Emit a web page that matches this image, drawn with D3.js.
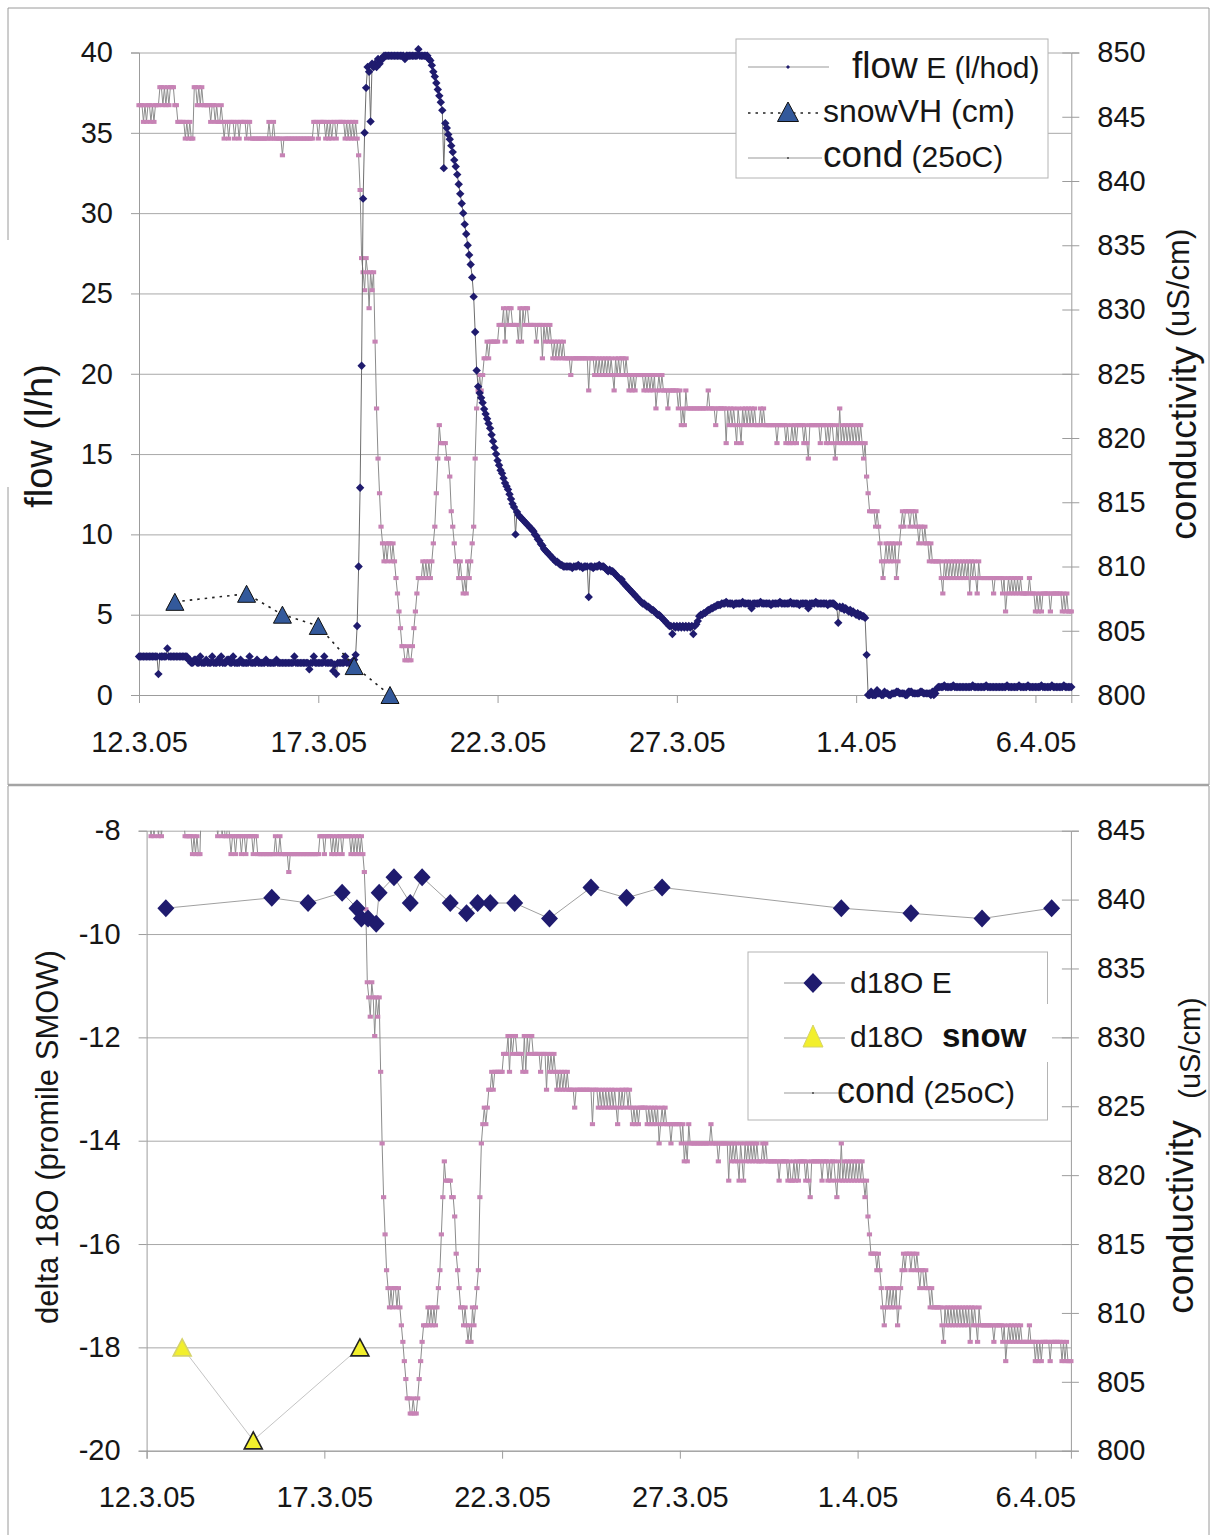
<!DOCTYPE html>
<html>
<head>
<meta charset="utf-8">
<script src="https://cdn.jsdelivr.net/npm/d3@7"></script>
<style>
html, body { margin: 0; padding: 0; background: #fff; }
svg { display: block; font-family: "Liberation Sans", Arial, sans-serif; }
</style>
</head>
<body>
<svg width="1214" height="1535"></svg>
<script>
// ---- data ----
const xDomain = ["2005-03-12", "2005-04-07"];
const xTicks = ["2005-03-12", "2005-03-17", "2005-03-22", "2005-03-27", "2005-04-01", "2005-04-06"];
const flowTicks = [0, 5, 10, 15, 20, 25, 30, 35, 40];
const condTicksTop = [800, 805, 810, 815, 820, 825, 830, 835, 840, 845, 850];
const isoTicks = [-20, -18, -16, -14, -12, -10, -8];
const condTicksBottom = [800, 805, 810, 815, 820, 825, 830, 835, 840, 845];

// hourly logger readings from 12.3.05 00:00; [value, hours] = repeated reading
const seriesStart = "2005-03-12T00:00";

const condRuns = [
  // 12.3
  [845.9,3],844.6,845.9,844.6,[845.9,2],844.6,845.9,844.6,[845.9,3],[847.3,2],845.9,847.3,845.9,847.3,845.9,[847.3,3],
  // 13.3
  [845.9,2],[844.6,5],843.3,844.6,843.3,844.6,[843.3,2],[847.3,2],845.9,847.3,845.9,847.3,[845.9,5],
  // 14.3
  844.6,[845.9,2],844.6,845.9,[844.6,2],845.9,844.6,843.3,[844.6,2],843.3,[844.6,3],843.3,[844.6,2],843.3,[844.6,4],
  // 15.3
  843.3,[844.6,2],[843.3,12],844.6,[843.3,2],844.6,[843.3,5],
  // 16.3
  842.0,[843.3,20],[844.6,3],
  // 17.3
  843.3,[844.6,4],843.3,844.6,843.3,844.6,843.3,[844.6,2],843.3,[844.6,5],843.3,844.6,843.3,844.6,843.3,844.6,
  // 18.3
  843.3,844.6,843.3,842.0,839.3,834.0,832.9,831.5,834.0,832.9,830.1,832.9,831.5,832.9,827.5,822.3,818.4,815.7,813.1,811.8,810.4,811.8,810.4,811.8,
  // 19.3
  811.8,810.4,811.8,810.4,809.1,807.9,806.5,805.2,[803.8,2],[802.7,2],803.8,[802.7,2],803.8,805.2,806.5,807.9,[809.1,3],810.4,809.1,
  // 20.3
  810.4,809.1,810.4,809.1,810.4,811.8,813.1,815.7,818.4,821.0,[819.6,4],[818.4,2],817.0,814.3,813.1,811.8,[810.4,2],809.1,810.4,
  // 21.3
  809.1,807.9,809.1,807.9,810.4,809.1,810.4,811.8,813.1,818.4,822.3,823.7,824.9,823.7,824.9,[826.2,2],827.5,826.2,[827.5,5],
  // 22.3
  827.5,[828.8,3],830.1,827.5,830.1,828.8,[830.1,2],[828.8,4],827.5,830.1,827.5,830.1,828.8,[830.1,2],[828.8,3],
  // 23.3
  [828.8,2],827.5,[828.8,3],826.2,828.8,827.5,828.8,827.5,828.8,827.5,826.2,827.5,826.2,827.5,826.2,827.5,826.2,827.5,[826.2,3],
  // 24.3
  826.2,824.9,[826.2,11],823.7,[826.2,3],824.9,826.2,824.9,826.2,824.9,826.2,824.9,
  // 25.3
  826.2,824.9,826.2,824.9,826.2,824.9,823.7,826.2,824.9,826.2,824.9,[826.2,2],824.9,826.2,824.9,823.7,824.9,823.7,824.9,823.7,[824.9,3],
  // 26.3
  [824.9,2],823.7,824.9,823.7,824.9,823.7,824.9,823.7,824.9,822.3,823.7,824.9,823.7,824.9,[823.7,3],822.3,[823.7,5],
  // 27.3
  823.7,822.3,823.7,821.0,822.3,821.0,823.7,[822.3,14],823.7,[822.3,2],
  // 28.3
  [822.3,2],821.0,[822.3,6],819.6,822.3,821.0,822.3,821.0,822.3,821.0,819.6,822.3,821.0,819.6,822.3,821.0,822.3,821.0,
  // 29.3
  822.3,821.0,822.3,821.0,822.3,[821.0,3],822.3,821.0,822.3,[821.0,8],819.6,[821.0,4],
  // 30.3
  821.0,819.6,821.0,[819.6,2],821.0,819.6,821.0,819.6,[821.0,4],819.6,821.0,819.6,818.4,[821.0,7],
  // 31.3
  819.6,[821.0,3],819.6,821.0,819.6,[821.0,2],819.6,818.4,821.0,819.6,822.3,819.6,821.0,819.6,821.0,819.6,821.0,819.6,821.0,819.6,821.0,
  // 1.4
  819.6,821.0,819.6,821.0,819.6,818.4,819.6,817.0,815.7,[814.3,4],813.1,814.3,813.1,811.8,810.4,809.1,810.4,811.8,810.4,811.8,810.4,
  // 2.4
  811.8,810.4,811.8,809.1,810.4,811.8,813.1,814.3,813.1,[814.3,3],813.1,[814.3,2],813.1,814.3,813.1,811.8,[813.1,2],811.8,813.1,811.8,
  // 3.4
  811.8,810.4,811.8,[810.4,6],809.1,807.9,810.4,809.1,810.4,809.1,810.4,809.1,810.4,809.1,810.4,809.1,810.4,809.1,810.4,
  // 4.4
  809.1,810.4,809.1,810.4,807.9,810.4,809.1,810.4,809.1,807.9,810.4,[809.1,9],807.9,[809.1,3],
  // 5.4
  [809.1,2],807.9,809.1,806.5,807.9,809.1,807.9,809.1,807.9,809.1,807.9,809.1,807.9,809.1,[807.9,5],809.1,[807.9,3],
  // 6.4 - 7.4 00:00
  806.5,807.9,806.5,807.9,806.5,[807.9,5],806.5,[807.9,7],806.5,807.9,806.5,807.9,[806.5,3]
];

const flowRuns = [
  // 12.3
  [2.4,13],1.3,[2.4,5],2.9,[2.4,4],
  // 13.3
  [2.4,9],[2.2,2],[2.0,2],[2.2,2],[2.0,2],2.4,[2.0,3],2.2,[2.0,2],
  // 14.3
  2.0,2.4,[2.0,3],2.2,2.0,2.4,[2.0,3],[2.2,2],[2.0,2],2.4,[2.0,4],2.2,[2.0,3],
  // 15.3
  [2.0,2],2.4,[2.0,4],2.2,[2.0,5],2.2,[2.0,6],2.2,[2.0,3],
  // 16.3
  [2.0,8],2.4,[2.0,9],1.6,[2.0,2],2.4,[2.0,2],
  // 17.3
  [2.0,4],2.4,[2.0,5],1.5,1.9,1.3,[2.0,5],2.4,[2.0,5],
  // 18.3
  2.2,2.5,4.3,8.0,12.9,20.5,30.9,35.0,37.8,39.1,38.8,35.7,39.3,39.1,39.3,39.1,39.6,39.3,[39.6,2],[39.8,4],
  // 19.3
  [39.8,10],39.6,[39.8,8],40.2,[39.8,4],
  // 20.3
  39.8,39.8,39.6,39.5,39.2,38.8,38.5,38.1,37.7,37.3,36.9,36.4,32.8,35.6,35.3,34.9,34.6,34.2,33.8,33.3,32.9,32.4,31.8,31.2,
  // 21.3
  30.6,30.0,29.3,28.7,28.0,27.4,26.8,26.0,24.8,22.6,20.2,19.2,18.8,18.5,18.2,17.8,17.5,17.2,16.9,16.6,16.2,15.8,15.4,15.0,
  // 22.3
  14.6,14.3,14.0,13.8,13.5,13.2,13.0,12.8,12.5,12.2,11.9,11.7,10.0,11.4,11.2,11.1,11.0,10.9,10.8,10.7,10.6,10.5,10.4,10.3,
  // 23.3
  10.2,10.0,9.9,9.7,9.6,9.4,9.3,9.1,9.0,8.9,8.8,8.7,8.6,8.5,8.4,8.3,8.3,8.2,8.1,8.1,[8.0,4],
  // 24.3
  [8.0,2],7.9,[8.0,3],8.1,[8.0,2],7.9,[8.0,3],6.1,[8.0,2],7.9,[8.0,3],8.1,[8.0,3],
  // 25.3
  7.9,7.8,7.7,7.8,7.7,7.7,7.6,7.5,7.4,7.3,7.2,7.2,7.0,6.9,6.8,6.7,6.6,6.5,6.4,6.3,6.2,6.1,6.0,5.9,
  // 26.3
  5.8,5.7,5.7,5.6,5.5,5.5,5.4,5.3,5.3,5.2,5.1,5.0,5.0,4.9,4.8,4.7,4.6,4.5,4.4,4.3,4.3,3.8,4.3,4.2,
  // 27.3
  4.3,4.2,4.3,4.2,4.3,4.2,4.3,4.2,4.3,4.2,4.3,3.8,4.3,4.4,4.6,4.9,5.0,5.0,5.1,5.1,5.2,5.3,5.3,5.4,
  // 28.3
  5.4,[5.5,2],[5.6,3],[5.7,3],5.8,[5.7,4],5.6,[5.7,5],5.8,[5.7,3],
  // 29.3
  [5.7,2],5.4,[5.7,5],5.8,[5.7,6],5.6,[5.7,5],5.8,[5.7,2],
  // 30.3
  [5.7,4],5.8,[5.7,5],5.6,[5.7,5],5.4,[5.7,4],5.8,[5.7,2],
  // 31.3
  [5.7,5],5.6,[5.7,4],5.6,5.5,4.5,5.5,5.4,5.5,5.3,5.4,5.3,5.2,5.3,5.1,5.2,5.1,
  // 1.4
  5.0,5.1,4.9,5.0,[4.9,2],4.8,2.5,[0.0,2],0.2,[0.0,3],0.3,[0.1,2],[0.0,2],0.2,[0.1,2],[0.0,2],
  // 2.4
  [0.1,3],[0.2,2],[0.1,4],[0.0,2],[0.2,3],[0.1,5],[0.2,2],[0.1,3],
  // 3.4
  [0.1,2],0.0,0.2,0.0,0.1,0.4,[0.5,4],0.6,[0.5,5],0.6,[0.5,6],
  // 4.4
  [0.5,6],0.6,[0.5,8],0.6,[0.5,8],
  // 5.4
  [0.5,5],0.6,[0.5,7],0.6,[0.5,5],0.6,[0.5,4],
  // 6.4 - 7.4 00:00
  [0.5,4],0.6,[0.5,6],0.6,[0.5,7],0.6,[0.5,5]
];

// snow depth VH (cm), left axis of the upper chart
const snowDates = ["2005-03-13T00:00", "2005-03-15T00:00", "2005-03-16T00:00", "2005-03-17T00:00", "2005-03-18T00:00", "2005-03-19T00:00"];
const snowDepth = [5.8, 6.3, 5.0, 4.3, 1.8, 0.0];

// d18O of spring E
const isoDates = ["2005-03-12T13:00", "2005-03-15T12:30", "2005-03-16T13:00", "2005-03-17T12:00", "2005-03-17T22:00",
  "2005-03-18T01:00", "2005-03-18T05:30", "2005-03-18T11:00", "2005-03-18T13:00", "2005-03-18T23:00",
  "2005-03-19T10:00", "2005-03-19T18:00", "2005-03-20T13:00", "2005-03-21T00:00", "2005-03-21T07:30",
  "2005-03-21T16:00", "2005-03-22T08:30", "2005-03-23T08:00", "2005-03-24T12:00", "2005-03-25T12:00",
  "2005-03-26T12:00", "2005-03-31T13:00", "2005-04-02T12:00", "2005-04-04T12:00", "2005-04-06T11:00"];
const isoE = [-9.5, -9.3, -9.4, -9.2, -9.5, -9.7, -9.7, -9.8, -9.2, -8.9, -9.4, -8.9, -9.4,
  -9.6, -9.4, -9.4, -9.4, -9.7, -9.1, -9.3, -9.1, -9.5, -9.6, -9.7, -9.5];

// d18O of snow
const isoSnowDates = ["2005-03-13T00:00", "2005-03-15T00:00", "2005-03-18T00:00"];
const isoSnow = [-18.0, -19.8, -18.0];

// ---- helpers ----
const svg = d3.select("svg");
const parseT = d3.utcParse("%Y-%m-%dT%H:%M");
const parseD = d3.utcParse("%Y-%m-%d");
const fmtDate = d3.utcFormat("%-d.%-m.%y");

function expand(runs) {
  const out = [];
  runs.forEach(r => {
    if (Array.isArray(r)) for (let k = 0; k < r[1]; k++) out.push(r[0]);
    else out.push(r);
  });
  return out;
}

const t0 = parseT(seriesStart);
const cond = expand(condRuns).map((v, i) => ({t: d3.utcHour.offset(t0, i), v: v}));
const flow = expand(flowRuns).map((v, i) => ({t: d3.utcHour.offset(t0, i), v: v}));
const snow = snowDates.map((d, i) => ({t: parseT(d), v: snowDepth[i]}));
const iso = isoDates.map((d, i) => ({t: parseT(d), v: isoE[i]}));
const isoS = isoSnowDates.map((d, i) => ({t: parseT(d), v: isoSnow[i]}));

const dom = xDomain.map(parseD);
const tickDates = xTicks.map(parseD);

const GRID = "#a8a8a8", AXIS = "#9c9c9c", TXT = "#161616";
const NAVY = "#1f1b6e", PINK = "#c783b5";

const diamondSmall = "M0,-4.2L4.2,0L0,4.2L-4.2,0Z";
const diamondBig = "M0,-9L8.5,0L0,9L-8.5,0Z";
const tri = "M0,-8.5L9,8.5L-9,8.5Z";

function styleAxis(g, fs) {
  g.select(".domain").attr("stroke", AXIS);
  g.selectAll(".tick line").attr("stroke", AXIS);
  g.selectAll(".tick text").attr("fill", TXT).style("font-size", fs + "px");
}

// grid + the three axes of one panel
function frame(x, yL, yR, ticksL, ticksR, fmtL, top, bottom, left, right) {
  svg.append("g")
    .attr("transform", `translate(${left},0)`)
    .call(d3.axisLeft(yL).tickValues(ticksL).tickSize(-(right - left)).tickFormat(""))
    .call(g => g.select(".domain").remove())
    .call(g => g.selectAll(".tick line").attr("stroke", GRID));

  svg.append("g")
    .attr("transform", `translate(${left},0)`)
    .call(d3.axisLeft(yL).tickValues(ticksL).tickSize(8).tickPadding(18).tickFormat(fmtL))
    .call(g => styleAxis(g, 29));

  svg.append("g")
    .attr("transform", `translate(${right},0)`)
    .call(d3.axisRight(yR).tickValues(ticksR).tickSize(8).tickPadding(18))
    .call(g => styleAxis(g, 29))
    .call(g => g.selectAll(".tick line").attr("x1", -9));

  svg.append("g")
    .attr("transform", `translate(0,${bottom})`)
    .call(d3.axisBottom(x).tickValues(tickDates).tickSize(8).tickPadding(28).tickFormat(fmtDate))
    .call(g => styleAxis(g, 29));
}

function condSeries(x, y, clipId) {
  const g = svg.append("g").attr("clip-path", `url(#${clipId})`);
  g.append("path").datum(cond)
    .attr("fill", "none").attr("stroke", "#8c8c8c").attr("stroke-width", 1)
    .attr("d", d3.line().x(d => x(d.t)).y(d => y(d.v)));
  g.selectAll("rect.c").data(cond).join("rect").attr("class", "c")
    .attr("x", d => x(d.t) - 2.6).attr("y", d => y(d.v) - 2)
    .attr("width", 5.2).attr("height", 4).attr("fill", PINK);
}

const defs = svg.append("defs");

// ================= upper chart =================
const xT = d3.scaleUtc().domain(dom).range([139, 1071.3]);
const yFlow = d3.scaleLinear().domain([0, 40]).range([695, 52.5]);
const yCondT = d3.scaleLinear().domain([800, 850]).range([695, 52.5]);

defs.append("clipPath").attr("id", "clipT").append("rect")
  .attr("x", 134).attr("y", 44).attr("width", 1071.3 - 134 + 5).attr("height", 701 - 44);

// outer border of the picture
const border = svg.append("g").attr("stroke", "#9a9a9a").attr("fill", "none");
border.append("path").attr("d", "M8,240 L8,8 L1209,8 L1209,785");
border.append("path").attr("d", "M8,487 L8,785");
border.append("line").attr("x1", 8).attr("x2", 1209).attr("y1", 785).attr("y2", 785)
  .attr("stroke", "#a4a4a4").attr("stroke-width", 2.5);
border.append("path").attr("d", "M8,786 L8,1535 M1209,786 L1209,1535");

frame(xT, yFlow, yCondT, flowTicks, condTicksTop, d => String(d), 52.5, 695, 139, 1071.3);

condSeries(xT, yCondT, "clipT");

const gFlow = svg.append("g").attr("clip-path", "url(#clipT)");
gFlow.append("path").datum(flow)
  .attr("fill", "none").attr("stroke", "#6e6e6e").attr("stroke-width", 1)
  .attr("d", d3.line().x(d => xT(d.t)).y(d => yFlow(d.v)));
gFlow.selectAll("path.f").data(flow).join("path").attr("class", "f")
  .attr("d", diamondSmall).attr("fill", NAVY)
  .attr("transform", d => `translate(${xT(d.t)},${yFlow(d.v)})`);

svg.append("path").datum(snow)
  .attr("fill", "none").attr("stroke", "#222").attr("stroke-width", 1.6)
  .attr("stroke-dasharray", "2.5,5")
  .attr("d", d3.line().x(d => xT(d.t)).y(d => yFlow(d.v)));
svg.selectAll("path.s").data(snow).join("path").attr("class", "s")
  .attr("d", tri).attr("fill", "#33599b").attr("stroke", "#111").attr("stroke-width", 1)
  .attr("transform", d => `translate(${xT(d.t)},${yFlow(d.v)})`);

// axis titles
svg.append("text").attr("transform", "translate(52,436) rotate(-90)")
  .attr("text-anchor", "middle").attr("fill", TXT).style("font-size", "38px").text("flow (l/h)");
svg.append("text").attr("transform", "translate(1196,443) rotate(-90)")
  .attr("text-anchor", "middle").attr("fill", TXT).style("font-size", "37px").text("conductivity");
svg.append("text").attr("transform", "translate(1189,283) rotate(-90)")
  .attr("text-anchor", "middle").attr("fill", TXT).style("font-size", "31px").text("(uS/cm)");

// legend
const lgT = svg.append("g");
lgT.append("rect").attr("x", 736).attr("y", 39).attr("width", 312).attr("height", 139)
  .attr("fill", "#fff").attr("stroke", "#b4b4b4");
lgT.append("line").attr("x1", 748).attr("x2", 829).attr("y1", 67).attr("y2", 67).attr("stroke", "#999");
lgT.append("path").attr("d", "M0,-2L2,0L0,2L-2,0Z").attr("fill", NAVY).attr("transform", "translate(788,67)");
lgT.append("text").attr("x", 852).attr("y", 78).attr("fill", TXT)
  .call(t => t.append("tspan").style("font-size", "37px").text("flow"))
  .call(t => t.append("tspan").style("font-size", "30px").text(" E (l/hod)"));
lgT.append("line").attr("x1", 748).attr("x2", 822).attr("y1", 113).attr("y2", 113)
  .attr("stroke", "#222").attr("stroke-width", 1.6).attr("stroke-dasharray", "2.5,5");
lgT.append("path").attr("d", "M0,-10L10.5,9.5L-10.5,9.5Z").attr("fill", "#33599b").attr("stroke", "#111")
  .attr("transform", "translate(788,112)");
lgT.append("text").attr("x", 823).attr("y", 122).attr("fill", TXT).style("font-size", "32px").text("snowVH (cm)");
lgT.append("line").attr("x1", 748).attr("x2", 822).attr("y1", 158).attr("y2", 158).attr("stroke", "#999");
lgT.append("rect").attr("x", 787).attr("y", 157).attr("width", 2).attr("height", 2).attr("fill", "#666");
lgT.append("text").attr("x", 823).attr("y", 167).attr("fill", TXT)
  .call(t => t.append("tspan").style("font-size", "37px").text("cond"))
  .call(t => t.append("tspan").style("font-size", "30px").text(" (25oC)"));

// ================= lower chart =================
const xB = d3.scaleUtc().domain(dom).range([146.6, 1070.9]);
const yIso = d3.scaleLinear().domain([-20, -8]).range([1450.7, 830.7]);
const yCondB = d3.scaleLinear().domain([800, 845]).range([1450.7, 830.7]);

defs.append("clipPath").attr("id", "clipB").append("rect")
  .attr("x", 142).attr("y", 830.7).attr("width", 1070.9 - 142 + 4).attr("height", 1452 - 830.7);

frame(xB, yIso, yCondB, isoTicks, condTicksBottom, d => String(d), 830.7, 1450.7, 146.6, 1070.9);

condSeries(xB, yCondB, "clipB");

svg.append("path").datum(iso)
  .attr("fill", "none").attr("stroke", "#a0a0a0").attr("stroke-width", 1)
  .attr("d", d3.line().x(d => xB(d.t)).y(d => yIso(d.v)));
svg.selectAll("path.i").data(iso).join("path").attr("class", "i")
  .attr("d", diamondBig).attr("fill", NAVY)
  .attr("transform", d => `translate(${xB(d.t)},${yIso(d.v)})`);

svg.append("path").datum(isoS)
  .attr("fill", "none").attr("stroke", "#c4c4c4").attr("stroke-width", 1)
  .attr("d", d3.line().x(d => xB(d.t)).y(d => yIso(d.v)));
svg.selectAll("path.y").data(isoS).join("path").attr("class", "y")
  .attr("d", tri).attr("fill", "#f2ef2c")
  .attr("stroke", (d, i) => i === 0 ? "#d6d36a" : "#222").attr("stroke-width", 1.6)
  .attr("transform", d => `translate(${xB(d.t)},${yIso(d.v)})`);

svg.append("text").attr("transform", "translate(58,1137) rotate(-90)")
  .attr("text-anchor", "middle").attr("fill", TXT).style("font-size", "31px").text("delta 18O (promile SMOW)");
svg.append("text").attr("transform", "translate(1193,1217) rotate(-90)")
  .attr("text-anchor", "middle").attr("fill", TXT).style("font-size", "37px").text("conductivity");
svg.append("text").attr("transform", "translate(1200,1048) rotate(-90)")
  .attr("text-anchor", "middle").attr("fill", TXT).style("font-size", "29px").text("(uS/cm)");

const lgB = svg.append("g");
lgB.append("rect").attr("x", 748).attr("y", 952).attr("width", 299.5).attr("height", 168)
  .attr("fill", "#fff").attr("stroke", "#b4b4b4");
lgB.append("line").attr("x1", 784).attr("x2", 845).attr("y1", 983).attr("y2", 983).attr("stroke", "#999");
lgB.append("path").attr("d", "M0,-10L9.5,0L0,10L-9.5,0Z").attr("fill", NAVY).attr("transform", "translate(813,983)");
lgB.append("text").attr("x", 850).attr("y", 993).attr("fill", TXT).style("font-size", "30px").text("d18O E");
lgB.append("line").attr("x1", 784).attr("x2", 845).attr("y1", 1038).attr("y2", 1038).attr("stroke", "#999");
lgB.append("path").attr("d", "M0,-11L10,11L-10,11Z").attr("fill", "#f2ef2c").attr("stroke", "#d6d36a")
  .attr("transform", "translate(813,1036)");
lgB.append("text").attr("x", 850).attr("y", 1047).attr("fill", TXT).style("font-size", "30px").text("d18O");
lgB.append("rect").attr("x", 936).attr("y", 1004).attr("width", 116).attr("height", 58).attr("fill", "#fff");
lgB.append("text").attr("x", 942).attr("y", 1047).attr("fill", "#111").style("font-size", "33px")
  .style("font-weight", "bold").text("snow");
lgB.append("line").attr("x1", 784).attr("x2", 845).attr("y1", 1093).attr("y2", 1093).attr("stroke", "#999");
lgB.append("rect").attr("x", 812).attr("y", 1092).attr("width", 2).attr("height", 2).attr("fill", "#666");
lgB.append("text").attr("x", 837).attr("y", 1103).attr("fill", TXT)
  .call(t => t.append("tspan").style("font-size", "36px").text("cond"))
  .call(t => t.append("tspan").style("font-size", "30px").text(" (25oC)"));
</script>
</body>
</html>
